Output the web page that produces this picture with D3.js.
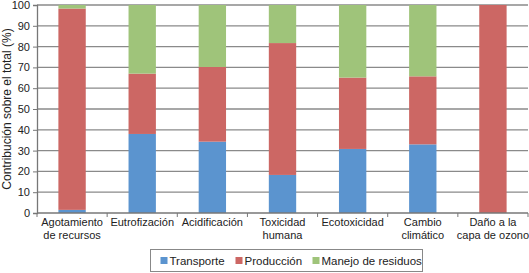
<!DOCTYPE html>
<html>
<head>
<meta charset="utf-8">
<script src="https://cdn.jsdelivr.net/npm/d3@7"></script>
<style>
  body { margin: 0; background: #fff; }
  text { font-family: "Liberation Sans", Arial, sans-serif; }
</style>
</head>
<body>
<div id="wrapper"></div>
<script>
// data
const categories = [
    ["Agotamiento", "de recursos"],
    ["Eutrofización"],
    ["Acidificación"],
    ["Toxicidad", "humana"],
    ["Ecotoxicidad"],
    ["Cambio", "climático"],
    ["Daño a la", "capa de ozono"]
]
const seriesNames = ["Transporte", "Producción", "Manejo de residuos"]
const transporte = [1.5, 38, 34.3, 18.3, 30.8, 33, 0]
const produccion = [96.8, 29, 35.9, 63.4, 34.3, 32.7, 100]
const manejo = [1.7, 33, 29.8, 18.3, 34.9, 34.3, 0]
const yTicks = [0, 10, 20, 30, 40, 50, 60, 70, 80, 90, 100]
const colors = ["#5b94cf", "#cc6764", "#9fc47a"]

const dimensions = {
    width: 529,
    height: 273,
    margin: { top: 5, right: 1, bottom: 60, left: 37 },
}
dimensions.boundedWidth = dimensions.width - dimensions.margin.left - dimensions.margin.right
dimensions.boundedHeight = dimensions.height - dimensions.margin.top - dimensions.margin.bottom

const dataset = categories.map((c, i) => ({
    key: i,
    Transporte: transporte[i],
    "Producción": produccion[i],
    "Manejo de residuos": manejo[i],
}))

const wrapper = d3.select("#wrapper")
    .append("svg")
    .attr("width", dimensions.width)
    .attr("height", dimensions.height)

const bounds = wrapper.append("g")
    .attr("transform", `translate(${dimensions.margin.left},${dimensions.margin.top})`)

const xScaler = d3.scaleBand()
    .domain(dataset.map(d => d.key))
    .range([0, dimensions.boundedWidth])
    .paddingInner(0.61)
    .paddingOuter(0.305)

const yScaler = d3.scaleLinear()
    .domain([0, 100])
    .range([dimensions.boundedHeight, 0])

// gridlines
bounds.append("g")
    .selectAll("line")
    .data(yTicks.slice(1))
    .enter()
    .append("line")
    .attr("x1", 0)
    .attr("x2", dimensions.boundedWidth)
    .attr("y1", d => yScaler(d))
    .attr("y2", d => yScaler(d))
    .attr("stroke", "#8a8a8a")
    .attr("stroke-width", 1.3)

// stacked bars
const stacked = d3.stack().keys(seriesNames)(dataset)
bounds.append("g")
    .selectAll("g")
    .data(stacked)
    .enter()
    .append("g")
    .attr("fill", (d, i) => colors[i])
    .selectAll("rect")
    .data(d => d)
    .enter()
    .append("rect")
    .attr("x", d => xScaler(d.data.key))
    .attr("width", xScaler.bandwidth())
    .attr("y", d => yScaler(d[1]))
    .attr("height", d => yScaler(d[0]) - yScaler(d[1]))

// y axis
const yAxisGen = d3.axisLeft(yScaler).tickValues(yTicks).tickSize(4).tickPadding(3)
const yAxis = bounds.append("g").call(yAxisGen)
yAxis.select(".domain").attr("stroke", "#777").attr("stroke-width", 1.3)
yAxis.selectAll(".tick line").attr("stroke", "#777")
yAxis.selectAll("text").attr("font-size", "11px").attr("fill", "#222")

// x axis
const xAxis = bounds.append("g")
    .attr("transform", `translate(0,${dimensions.boundedHeight})`)
xAxis.append("line")
    .attr("x1", 0).attr("x2", dimensions.boundedWidth)
    .attr("stroke", "#777").attr("stroke-width", 1.3)
const step = xScaler.step()
xAxis.selectAll(".sep")
    .data(d3.range(categories.length + 1))
    .enter()
    .append("line")
    .attr("class", "sep")
    .attr("x1", d => d * step)
    .attr("x2", d => d * step)
    .attr("y1", 0).attr("y2", 4)
    .attr("stroke", "#777")

const catLabels = xAxis.selectAll(".cat")
    .data(categories)
    .enter()
    .append("text")
    .attr("class", "cat")
    .attr("x", (d, i) => xScaler(i) + xScaler.bandwidth() / 2)
    .attr("y", 13)
    .attr("text-anchor", "middle")
    .attr("font-size", "11px")
    .attr("fill", "#222")
catLabels.selectAll("tspan")
    .data(d => d)
    .enter()
    .append("tspan")
    .attr("x", function () { return d3.select(this.parentNode).attr("x") })
    .attr("dy", (d, i) => i === 0 ? 0 : 13)
    .text(d => d)

// y label
bounds.append("text")
    .attr("transform", `translate(${-26},${dimensions.boundedHeight / 2})rotate(-90)`)
    .attr("text-anchor", "middle")
    .attr("font-size", "12px")
    .attr("fill", "#222")
    .text("Contribución sobre el total (%)")

// legend
const legend = wrapper.append("g").attr("transform", "translate(150.5,249.5)")
legend.append("rect")
    .attr("width", 272)
    .attr("height", 22)
    .attr("fill", "#fff")
    .attr("stroke", "#888")
const legendX = [10, 85, 162]
const items = legend.selectAll(".item")
    .data(seriesNames)
    .enter()
    .append("g")
    .attr("transform", (d, i) => `translate(${legendX[i]},0)`)
items.append("rect")
    .attr("y", 7.5)
    .attr("width", 7)
    .attr("height", 7)
    .attr("fill", (d, i) => colors[i])
items.append("text")
    .attr("x", 9)
    .attr("y", 15)
    .attr("font-size", "11.5px")
    .attr("fill", "#222")
    .text(d => d)
</script>
</body>
</html>
